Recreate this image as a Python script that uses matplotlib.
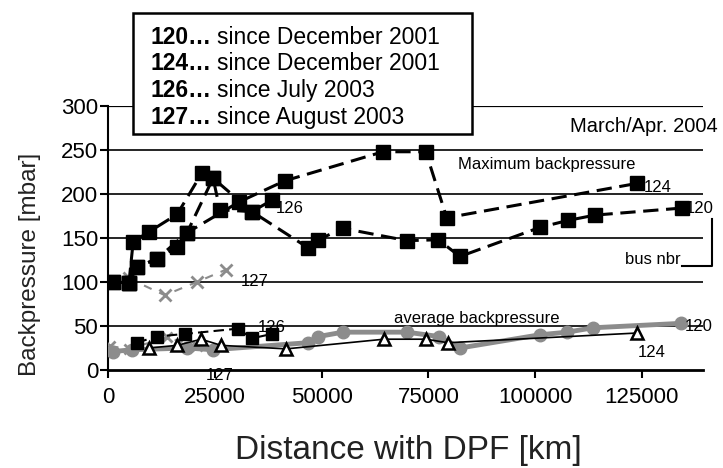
import matplotlib
matplotlib.use("Agg")
import matplotlib.pyplot as plt
from matplotlib.patches import Rectangle

plt.rcParams['font.family'] = ['Liberation Sans', 'DejaVu Sans']

# maximum backpressure
max120_km = [1200, 4900, 6700, 11400, 16200, 18500, 24600, 26200, 33700, 46800, 49200,
             55000, 70000, 77300, 82400, 101100, 107700, 114000, 134300]
max120_p = [100, 99, 117, 126, 140, 156, 218, 182, 180, 139, 148,
            161, 147, 148, 129, 162, 170, 176, 184]
max124_km = [1200, 4900, 6700, 11400, 18500, 30700, 41400, 64400, 74400, 79300, 123800]
max124_p = [100, 99, 117, 126, 156, 191, 215, 248, 248, 173, 212]
max126_km = [4900, 5900, 9600, 16200, 22000, 24600, 33700, 38400]
max126_p = [99, 146, 157, 177, 224, 218, 180, 193]
max127_km = [4900, 13300, 20800, 27600]
max127_p = [104, 85, 100, 114]

# average backpressure
avg120_km = [1200, 5600, 18500, 24600, 46800, 49200, 55000, 70000, 77500, 82400,
             101100, 107500, 113600, 134100]
avg120_p = [21, 23, 25, 23, 31, 38, 43, 43, 38, 25, 40, 43, 48, 53]
avg124_km = [9600, 16200, 21800, 26500, 41700, 64600, 74400, 79600, 123800]
avg124_p = [25, 28, 35, 28, 24, 35, 35, 31, 42]
avg126_km = [6700, 11400, 18000, 30400, 33700, 38400]
avg126_p = [31, 38, 41, 47, 36, 41]
avg127_km = [500, 4900, 13800, 20800]
avg127_p = [27, 24, 37, 27]

legend_bus = ["120\u2026", "124\u2026", "126\u2026", "127\u2026"]
legend_since = ["since December 2001", "since December 2001",
                "since July 2003", "since August 2003"]

fig = plt.figure(figsize=(7.23, 4.68), dpi=100)
ax = fig.add_axes([108/723, 98/468, 595/723, 264/468])

grey = "#8c8c8c"
dash = (5, 2.5)

# horizontal grid
for yv in [50, 100, 150, 200, 250, 300]:
    ax.axhline(yv, color="black", lw=1.2 if yv != 300 else 1.6, zorder=1)

ax.plot(max127_km, max127_p, color=grey, lw=1.5, dashes=(4, 4), marker="x",
        ms=8, mew=2, zorder=3)
ax.plot(max120_km, max120_p, color="black", lw=2.2, dashes=dash, marker="s", ms=9.5, zorder=4)
ax.plot(max124_km, max124_p, color="black", lw=2.2, dashes=dash, marker="s", ms=9.5, zorder=4)
ax.plot(max126_km, max126_p, color="black", lw=2.2, dashes=dash, marker="s", ms=9.5, zorder=4)

ax.plot(avg127_km, avg127_p, color=grey, lw=1.5, dashes=(4, 4), marker="x",
        ms=7, mew=2, zorder=3)
ax.plot(avg120_km, avg120_p, color=grey, lw=3.5, marker="o", ms=9, zorder=3)
ax.plot(avg124_km, avg124_p, color="black", lw=1.2, marker="^", ms=8,
        mfc="white", mec="black", mew=1.8, zorder=4)
ax.plot(avg126_km, avg126_p, color="black", lw=1.5, dashes=dash, marker="s", ms=9, zorder=4)

ax.set_xlim(0, 139300)
ax.set_ylim(0, 300)
ax.set_xticks([0, 25000, 50000, 75000, 100000, 125000])
ax.set_yticks([0, 50, 100, 150, 200, 250, 300])
ax.tick_params(direction="out", length=6, width=1.5, labelsize=16)
ax.tick_params(axis="x", pad=6)
ax.tick_params(axis="y", pad=1)
for s in ["top", "right"]:
    ax.spines[s].set_visible(False)
ax.spines["left"].set_linewidth(1.5)
ax.spines["bottom"].set_linewidth(2)
fig.text(30/723, 1 - 264/468, "Backpressure [mbar]", fontsize=17.5, rotation=90,
         ha="center", va="center", color="#222222")
fig.text(408/723, 1 - 450/468, "Distance with DPF [km]", fontsize=24,
         ha="center", va="center", color="#222222")

# annotations
fs = 12
ax.text(142800, 277, "March/Apr. 2004", fontsize=14.5, ha="right", va="center")
ax.text(102800, 234, "Maximum backpressure", fontsize=fs, ha="center", va="center")
ax.text(86400, 58, "average backpressure", fontsize=fs, ha="center", va="center")
ax.text(125500, 207, "124", fontsize=fs, va="center")
ax.text(135200, 184, "120", fontsize=fs, va="center")
ax.text(39200, 183, "126", fontsize=fs, va="center")
ax.text(31000, 100, "127", fontsize=fs, va="center")
ax.text(35000, 48, "126", fontsize=fs, va="center")
ax.text(23000, -6, "127", fontsize=fs, va="center")
ax.text(135000, 49, "120", fontsize=fs, va="center")
ax.text(124000, 20, "124", fontsize=fs, va="center")
ax.text(134000, 125, "bus nbr", fontsize=fs, ha="right", va="center")
ax.plot([134300, 141300, 141300], [118, 118, 172], color="black", lw=1.5,
        clip_on=False, zorder=5)

# legend box
fig.patches.append(Rectangle((133/723, 1 - 134/468), 339/723, 121/468,
                             transform=fig.transFigure, facecolor="white",
                             edgecolor="black", lw=1.8, zorder=10))
for i, (b, s) in enumerate(zip(legend_bus, legend_since)):
    yy = 1 - (37 + 26.7 * i) / 468
    fig.text(151/723, yy, b, fontsize=16.5, fontweight="bold", va="center", zorder=11)
    fig.text(217/723, yy, s, fontsize=16.5, va="center", zorder=11)

fig.savefig("out.png", dpi=100)
